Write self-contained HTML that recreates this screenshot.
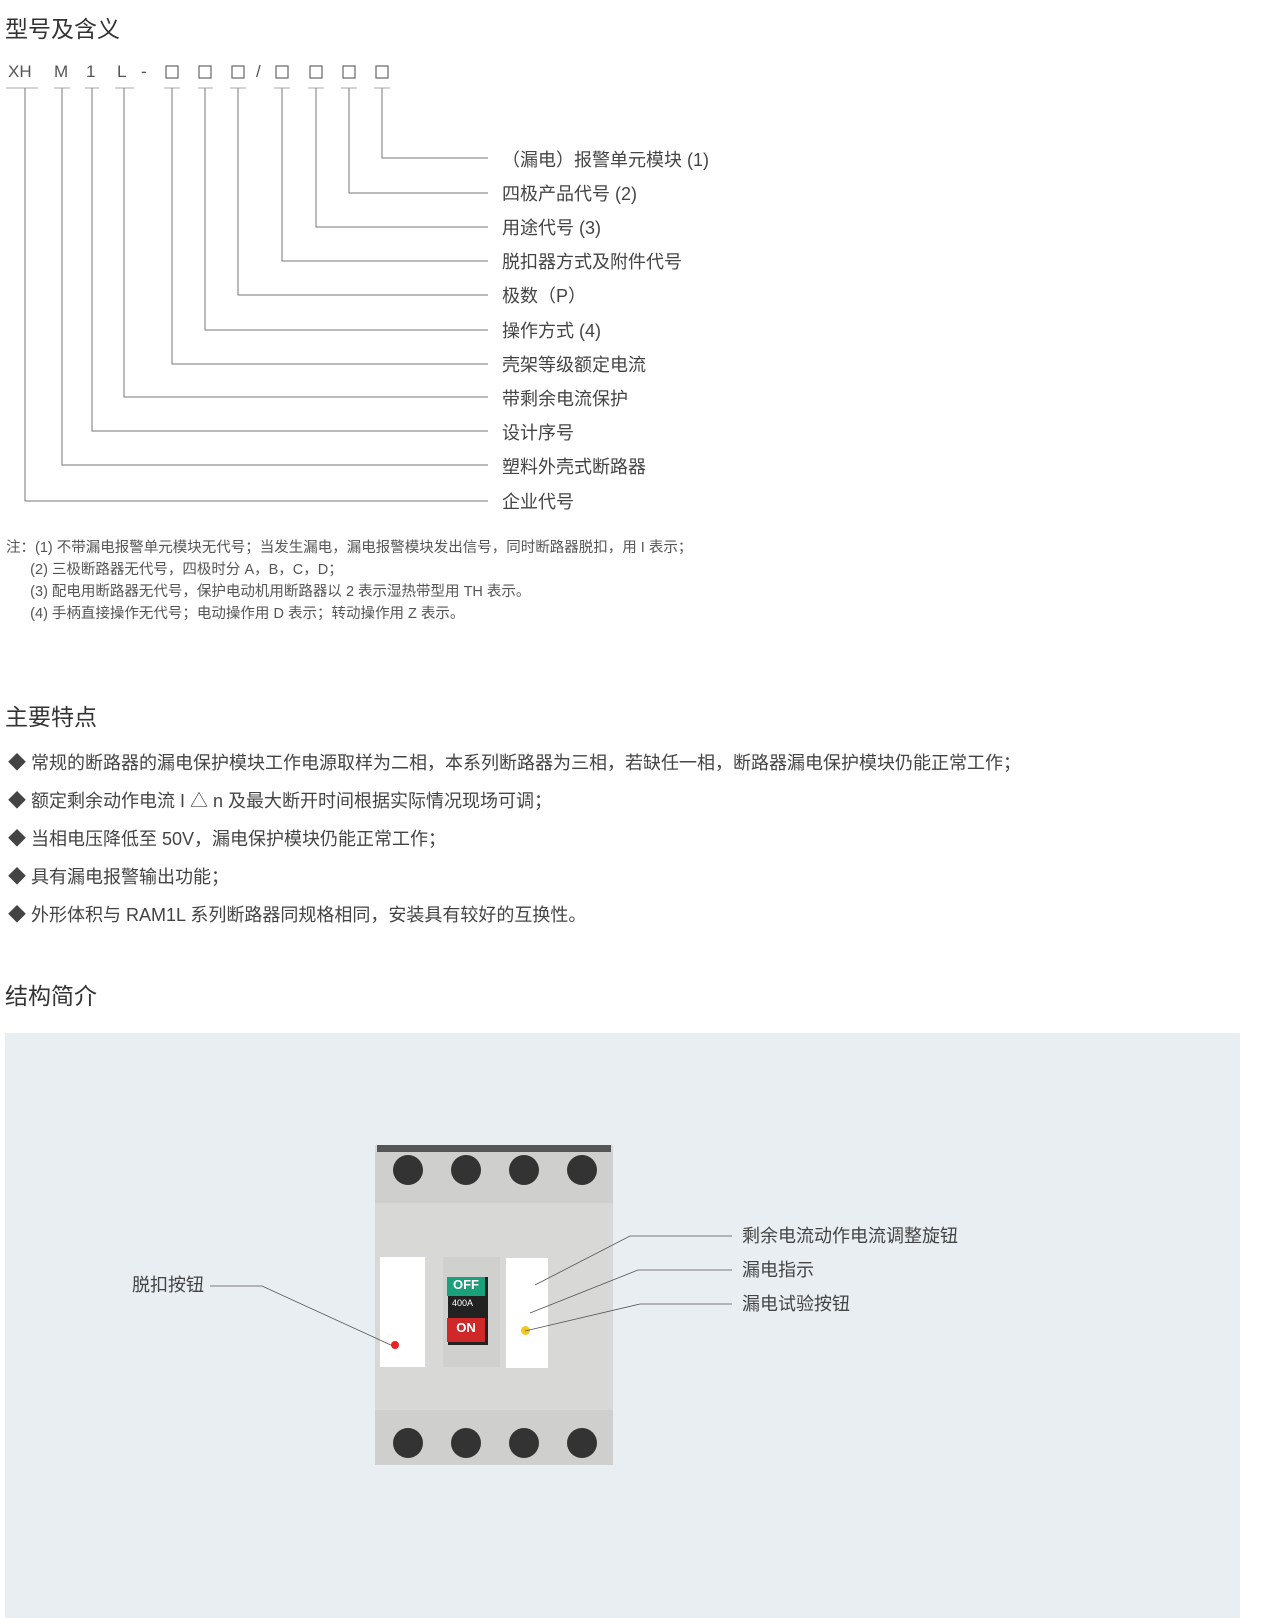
<!DOCTYPE html>
<html><head><meta charset="utf-8"><style>
body{margin:0;width:1280px;height:1618px;background:#fff;font-family:"Liberation Sans","Noto Sans CJK SC",sans-serif;color:#444;position:relative;overflow:hidden}
.a{position:absolute;white-space:nowrap}
h2{position:absolute;margin:0;font-weight:normal;font-size:23px;color:#333;left:5px}
.lab{position:absolute;left:502px;font-size:18px;color:#444;white-space:nowrap}
.note{position:absolute;left:6px;font-size:14.5px;color:#555;line-height:22px;white-space:nowrap}
.f{position:absolute;left:8px;font-size:18px;color:#444;white-space:nowrap}
</style></head><body>
<h2 style="top:10px">型号及含义</h2>
<div class="a" style="top:62px;left:8px;font-size:17px;color:#555">XH</div>
<div class="a" style="top:62px;left:54px;font-size:17px;color:#555">M</div>
<div class="a" style="top:62px;left:86px;font-size:17px;color:#555">1</div>
<div class="a" style="top:62px;left:117px;font-size:17px;color:#555">L</div>
<div class="a" style="top:62px;left:141px;font-size:17px;color:#555">-</div>
<div class="a" style="top:62px;left:256px;font-size:17px;color:#555">/</div>
<svg class="a" style="left:0;top:0" width="720" height="520">
<g fill="none" stroke="#666" stroke-width="1.2">
<rect x="166" y="66" width="12" height="12"/><rect x="199" y="66" width="12" height="12"/><rect x="232" y="66" width="12" height="12"/><rect x="276" y="66" width="12" height="12"/><rect x="310" y="66" width="12" height="12"/><rect x="343" y="66" width="12" height="12"/><rect x="376" y="66" width="12" height="12"/>
</g>
<g stroke="#aaa" stroke-width="1">
<line x1="6" y1="88" x2="38" y2="88"/><line x1="54" y1="88" x2="70" y2="88"/><line x1="85" y1="88" x2="99" y2="88"/><line x1="115" y1="88" x2="134" y2="88"/>
<line x1="164" y1="88" x2="180" y2="88"/><line x1="198" y1="88" x2="213" y2="88"/><line x1="230" y1="88" x2="246" y2="88"/><line x1="274" y1="88" x2="290" y2="88"/><line x1="308" y1="88" x2="324" y2="88"/><line x1="341" y1="88" x2="357" y2="88"/><line x1="374" y1="88" x2="390" y2="88"/>
</g>
<g fill="none" stroke="#777" stroke-width="1">
<polyline points="382,88 382,158 488,158"/><polyline points="349,88 349,193 488,193"/><polyline points="316,88 316,227 488,227"/><polyline points="282,88 282,261 488,261"/><polyline points="238,88 238,295 488,295"/><polyline points="205,88 205,330 488,330"/><polyline points="172,88 172,364 488,364"/><polyline points="124,88 124,397 488,397"/><polyline points="92,88 92,431 488,431"/><polyline points="62,88 62,465 488,465"/><polyline points="25,88 25,501 488,501"/>
</g></svg>
<div class="lab" style="top:146px">（漏电）报警单元模块 (1)</div>
<div class="lab" style="top:180px">四极产品代号 (2)</div>
<div class="lab" style="top:214px">用途代号 (3)</div>
<div class="lab" style="top:248px">脱扣器方式及附件代号</div>
<div class="lab" style="top:282px">极数（P）</div>
<div class="lab" style="top:317px">操作方式 (4)</div>
<div class="lab" style="top:351px">壳架等级额定电流</div>
<div class="lab" style="top:385px">带剩余电流保护</div>
<div class="lab" style="top:419px">设计序号</div>
<div class="lab" style="top:453px">塑料外壳式断路器</div>
<div class="lab" style="top:488px">企业代号</div>
<div class="note" style="top:537px">注：(1) 不带漏电报警单元模块无代号；当发生漏电，漏电报警模块发出信号，同时断路器脱扣，用 I 表示；<br>&nbsp;&nbsp;&nbsp;&nbsp;&nbsp;&nbsp;(2) 三极断路器无代号，四极时分 A，B，C，D；<br>&nbsp;&nbsp;&nbsp;&nbsp;&nbsp;&nbsp;(3) 配电用断路器无代号，保护电动机用断路器以 2 表示湿热带型用 TH 表示。<br>&nbsp;&nbsp;&nbsp;&nbsp;&nbsp;&nbsp;(4) 手柄直接操作无代号；电动操作用 D 表示；转动操作用 Z 表示。</div>
<h2 style="top:698px">主要特点</h2>
<div class="f" style="top:749px">◆ 常规的断路器的漏电保护模块工作电源取样为二相，本系列断路器为三相，若缺任一相，断路器漏电保护模块仍能正常工作；</div>
<div class="f" style="top:787px">◆ 额定剩余动作电流 I △ n 及最大断开时间根据实际情况现场可调；</div>
<div class="f" style="top:825px">◆ 当相电压降低至 50V，漏电保护模块仍能正常工作；</div>
<div class="f" style="top:863px">◆ 具有漏电报警输出功能；</div>
<div class="f" style="top:901px">◆ 外形体积与 RAM1L 系列断路器同规格相同，安装具有较好的互换性。</div>
<h2 style="top:977px">结构简介</h2>
<div class="a" style="left:5px;top:1033px;width:1235px;height:585px;background:#e9eef2"></div>
<div class="a" style="left:375px;top:1145px;width:238px;height:320px;background:#d8d8d6"></div>
<div class="a" style="left:377px;top:1145px;width:234px;height:7px;background:#555"></div>
<div class="a" style="left:375px;top:1152px;width:238px;height:51px;background:#cfcfcd"></div>
<div class="a" style="left:375px;top:1410px;width:238px;height:55px;background:#cfcfcd"></div>
<div class="a" style="left:393px;top:1155px;width:30px;height:30px;border-radius:50%;background:#333"></div>
<div class="a" style="left:451px;top:1155px;width:30px;height:30px;border-radius:50%;background:#333"></div>
<div class="a" style="left:509px;top:1155px;width:30px;height:30px;border-radius:50%;background:#333"></div>
<div class="a" style="left:567px;top:1155px;width:30px;height:30px;border-radius:50%;background:#333"></div>
<div class="a" style="left:393px;top:1428px;width:30px;height:30px;border-radius:50%;background:#333"></div>
<div class="a" style="left:451px;top:1428px;width:30px;height:30px;border-radius:50%;background:#333"></div>
<div class="a" style="left:509px;top:1428px;width:30px;height:30px;border-radius:50%;background:#333"></div>
<div class="a" style="left:567px;top:1428px;width:30px;height:30px;border-radius:50%;background:#333"></div>
<div class="a" style="left:380px;top:1257px;width:45px;height:110px;background:#fff"></div>
<div class="a" style="left:443px;top:1257px;width:57px;height:110px;background:#d0d0ce"></div>
<div class="a" style="left:448px;top:1277px;width:40px;height:68px;background:#222"></div>
<div class="a" style="left:447px;top:1277px;width:38px;height:19px;background:#1aa07a;color:#fff;font-size:13px;text-align:center;font-weight:bold">OFF</div>
<div class="a" style="left:447px;top:1318px;width:38px;height:24px;background:#d02828;color:#fff;font-size:13px;text-align:center;font-weight:bold;line-height:20px">ON</div>
<div class="a" style="left:452px;top:1298px;color:#fff;font-size:9px">400A</div>
<div class="a" style="left:506px;top:1258px;width:42px;height:110px;background:#fff"></div>
<div class="a" style="left:391px;top:1341px;width:8px;height:8px;border-radius:50%;background:#e22"></div>
<div class="a" style="left:521px;top:1326px;width:9px;height:9px;border-radius:50%;background:#f3c81b"></div>
<svg class="a" style="left:0;top:1200px" width="1280" height="160"><g stroke="#555" stroke-width="0.8" fill="none">
<polyline points="210,86 262,86 393,146"/><polyline points="732,36 630,36 535,85"/><polyline points="732,70 638,70 530,113"/><polyline points="732,104 640,104 525,131"/></g></svg>
<div class="a" style="left:132px;top:1271px;font-size:18px">脱扣按钮</div>
<div class="a" style="left:742px;top:1222px;font-size:18px">剩余电流动作电流调整旋钮</div>
<div class="a" style="left:742px;top:1256px;font-size:18px">漏电指示</div>
<div class="a" style="left:742px;top:1290px;font-size:18px">漏电试验按钮</div>
</body></html>
